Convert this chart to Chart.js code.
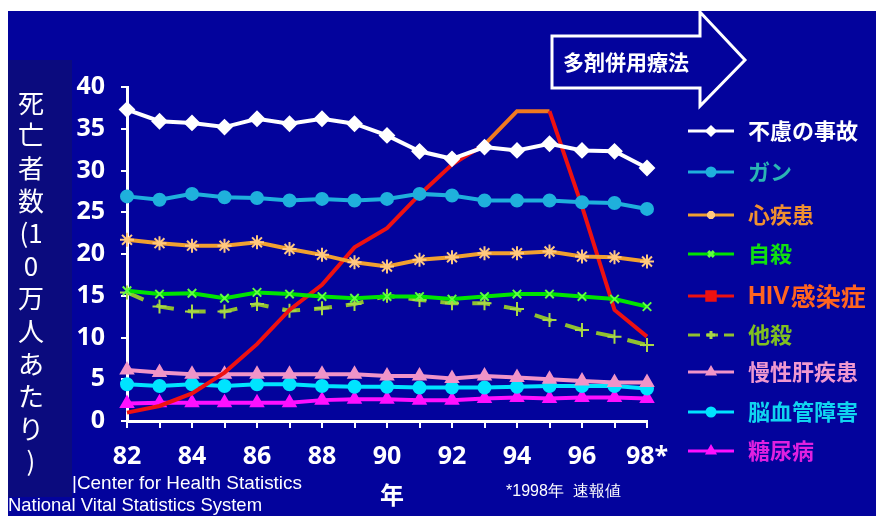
<!DOCTYPE html>
<html>
<head>
<meta charset="utf-8">
<script src="https://cdn.jsdelivr.net/npm/chart.js@4.4.0/dist/chart.umd.min.js"></script>
<style>
  html, body { margin: 0; padding: 0; background: #fff; }
  #wrap { position: relative; width: 876px; height: 516px; }
</style>
</head>
<body>
<div id="wrap"><canvas id="chart"></canvas></div>
<script>
// Years 1982-1998 (98 = preliminary)
const years = ['82','83','84','85','86','87','88','89','90','91','92','93','94','95','96','97','98*'];
const yTicks = [0, 5, 10, 15, 20, 25, 30, 35, 40];

// Deaths per 100,000
const accident = [37.3, 35.9, 35.7, 35.2, 36.2, 35.6, 36.2, 35.6, 34.2, 32.3, 31.4, 32.8, 32.4, 33.2, 32.4, 32.3, 30.3];
const cancer   = [26.9, 26.5, 27.2, 26.8, 26.7, 26.4, 26.6, 26.4, 26.6, 27.2, 27.0, 26.4, 26.4, 26.4, 26.2, 26.1, 25.4];
const heart    = [21.7, 21.3, 21.0, 21.0, 21.4, 20.6, 19.9, 19.0, 18.5, 19.3, 19.6, 20.1, 20.1, 20.3, 19.7, 19.6, 19.1];
const suicide  = [15.6, 15.2, 15.3, 14.7, 15.4, 15.2, 14.9, 14.7, 14.9, 14.9, 14.6, 14.9, 15.2, 15.2, 14.9, 14.6, 13.7];
const hiv      = [1.0, 1.8, 3.3, 5.8, 9.2, 13.3, 16.3, 20.8, 23.1, 27.1, 30.7, 33.1, 37.1, 37.1, 25.7, 13.3, 10.1];
const homicide = [15.4, 13.7, 13.1, 13.1, 14.0, 13.2, 13.5, 14.0, 15.0, 14.5, 14.1, 14.1, 13.4, 12.1, 10.9, 10.1, 9.1];
const liver    = [6.1, 5.8, 5.6, 5.6, 5.6, 5.6, 5.6, 5.6, 5.4, 5.4, 5.1, 5.4, 5.2, 5.0, 4.8, 4.6, 4.6];
const stroke   = [4.4, 4.2, 4.4, 4.2, 4.4, 4.4, 4.2, 4.1, 4.1, 4.0, 4.0, 4.0, 4.1, 4.2, 4.2, 4.2, 3.9];
const diabetes = [2.1, 2.2, 2.2, 2.2, 2.2, 2.2, 2.5, 2.6, 2.6, 2.5, 2.5, 2.7, 2.8, 2.7, 2.8, 2.8, 2.7];

const seriesNames = ['不慮の事故', 'ガン', '心疾患', '自殺', 'HIV感染症', '他殺', '慢性肝疾患', '脳血管障害', '糖尿病'];
const textColors  = ['#ffffff', '#2ab4b4', '#f09030', '#10e010', '#ff6420', '#80c020', '#f098d0', '#10d4f0', '#e020e0'];

const BG = '#03039c';
const PANEL = '#0b0b7e';
const jp = '"Noto Sans CJK JP", sans-serif';

function line(label, data, color, extra) {
    return Object.assign({
        label: label,
        data: data,
        borderColor: color,
        backgroundColor: color,
        pointBorderColor: color,
        pointBackgroundColor: color,
        borderWidth: 4,
        pointRadius: 6,
        pointBorderWidth: 2,
        tension: 0,
        clip: false
    }, extra || {});
}

const datasets = [
    line(seriesNames[0], accident, '#ffffff', { pointStyle: 'rectRot', pointRadius: 7 }),
    line(seriesNames[1], cancer, '#1fb0dc', { pointStyle: 'circle', pointRadius: 6 }),
    line(seriesNames[2], heart, '#f0a030', { pointStyle: 'star', pointRadius: 7, pointBorderColor: '#ffc880' }),
    line(seriesNames[3], suicide, '#00e400', { pointStyle: 'crossRot', pointRadius: 6, pointBorderColor: '#60ff40' }),
    line(seriesNames[4], hiv, '#ee1111', {
        pointRadius: 0, legendStyle: 'rect',
        segment: { borderColor: c => (c.p0DataIndex === 11 || c.p0DataIndex === 12) ? '#f07a20' : undefined }
    }),
    line(seriesNames[5], homicide, '#90c030', { borderWidth: 4, borderDash: [18, 14], pointStyle: 'cross', pointRadius: 7, pointBorderColor: '#a8d848' }),
    line(seriesNames[6], liver, '#f094c8', { pointStyle: 'triangle', pointRadius: 7 }),
    line(seriesNames[7], stroke, '#00e4ff', { pointStyle: 'circle', pointRadius: 6 }),
    line(seriesNames[8], diabetes, '#ff10ff', { pointStyle: 'triangle', pointRadius: 7 })
];

// slide background, title panel, arrow, notes
const backdrop = {
    id: 'backdrop',
    beforeDraw(chart) {
        const ctx = chart.ctx;
        ctx.save();
        ctx.fillStyle = '#ffffff';
        ctx.fillRect(0, 0, 876, 516);
        ctx.fillStyle = BG;
        ctx.fillRect(8, 11, 868, 505);
        ctx.fillStyle = PANEL;
        ctx.fillRect(8, 60, 64, 437);

        // arrow
        ctx.beginPath();
        ctx.moveTo(552, 36);
        ctx.lineTo(700, 36);
        ctx.lineTo(700, 12);
        ctx.lineTo(745, 60);
        ctx.lineTo(700, 106);
        ctx.lineTo(700, 88);
        ctx.lineTo(552, 88);
        ctx.closePath();
        ctx.fillStyle = BG;
        ctx.fill();
        ctx.strokeStyle = '#ffffff';
        ctx.lineWidth = 3;
        ctx.stroke();
        ctx.restore();
    },
    afterDraw(chart) {
        const ctx = chart.ctx;
        ctx.save();
        ctx.fillStyle = '#ffffff';
        ctx.textBaseline = 'middle';
        ctx.textAlign = 'center';
        ctx.font = 'bold 21px ' + jp;
        ctx.fillText('多剤併用療法', 626, 62);

        // vertical y title
        const cells = ['死', '亡', '者', '数', '(1', '0', '万', '人', 'あ', 'た', 'り', ')'];
        ctx.font = '26px ' + jp;
        cells.forEach((ch, i) => ctx.fillText(ch, 31, 103 + i * 32.6));

        ctx.font = 'bold 24px ' + jp;
        ctx.fillText('年', 392, 495);

        ctx.textAlign = 'left';
        ctx.font = '16px "Liberation Sans", sans-serif';
        ctx.fillText('*1998年  速報値', 506, 492, 134);
        ctx.font = '19px "Liberation Sans", sans-serif';
        ctx.fillText('|Center for Health Statistics', 72, 484, 230);
        ctx.fillText('National Vital Statistics System', 8, 506, 254);
        ctx.restore();
    }
};

// legend: short line with marker, coloured label
const sideLegend = {
    id: 'sideLegend',
    afterDraw(chart) {
        const ctx = chart.ctx;
        const rows = [131, 172, 215, 254, 296, 335, 372, 412, 451];
        ctx.save();
        chart.data.datasets.forEach((ds, i) => {
            const y = rows[i];
            ctx.strokeStyle = ds.borderColor;
            ctx.lineWidth = 3;
            ctx.setLineDash(ds.borderDash ? [12, 6] : []);
            ctx.beginPath();
            ctx.moveTo(688, y);
            ctx.lineTo(734, y);
            ctx.stroke();
            ctx.setLineDash([]);
            ctx.fillStyle = ds.pointBackgroundColor;
            ctx.strokeStyle = ds.pointBorderColor;
            Chart.helpers.drawPoint(ctx, {
                pointStyle: ds.legendStyle || ds.pointStyle,
                radius: ds.legendStyle ? 6 : 4,
                borderWidth: 1.5,
                rotation: 0
            }, 711, y);

            ctx.fillStyle = textColors[i];
            ctx.textBaseline = 'middle';
            ctx.textAlign = 'left';
            if (i === 4) {
                ctx.font = 'bold 25px "Liberation Sans", sans-serif';
                ctx.fillText('HIV', 748, y + 1);
                const w = ctx.measureText('HIV').width;
                ctx.font = 'bold 25px ' + jp;
                ctx.fillText('感染症', 748 + w + 1, y);
            } else {
                ctx.font = 'bold 22px ' + jp;
                ctx.fillText(ds.label, 748, y);
            }
        });
        ctx.restore();
    }
};

const tickFont = { family: '"Open Sans", "Liberation Sans", sans-serif', size: 25, weight: 'bold' };

new Chart(document.getElementById('chart'), {
    type: 'line',
    data: { labels: years, datasets: datasets },
    options: {
        responsive: true,
        maintainAspectRatio: false,
        animation: false,
        layout: { padding: { left: 0, top: 87, right: 229, bottom: 0 } },
        plugins: { legend: { display: false }, tooltip: { enabled: false } },
        scales: {
            x: {
                offset: false,
                afterFit(s) { s.height = 95; },
                grid: { display: true, drawOnChartArea: false, drawTicks: true, tickLength: 7, color: '#ffffff', lineWidth: 2 },
                border: { display: true, color: '#ffffff', width: 3 },
                ticks: {
                    autoSkip: false, maxRotation: 0, color: '#ffffff', font: tickFont, padding: 14,
                    callback: (v, i) => i % 2 === 0 ? years[i] : ''
                }
            },
            y: {
                min: yTicks[0],
                max: yTicks[yTicks.length - 1],
                afterFit(s) { s.width = 127; },
                afterBuildTicks(s) { s.ticks = yTicks.map(v => ({ value: v })); },
                grid: { display: true, drawOnChartArea: false, drawTicks: true, tickLength: 6, color: '#ffffff', lineWidth: 2 },
                border: { display: true, color: '#ffffff', width: 3 },
                ticks: { color: '#ffffff', font: tickFont, padding: 16 }
            }
        }
    },
    plugins: [backdrop, sideLegend]
});
</script>
</body>
</html>
